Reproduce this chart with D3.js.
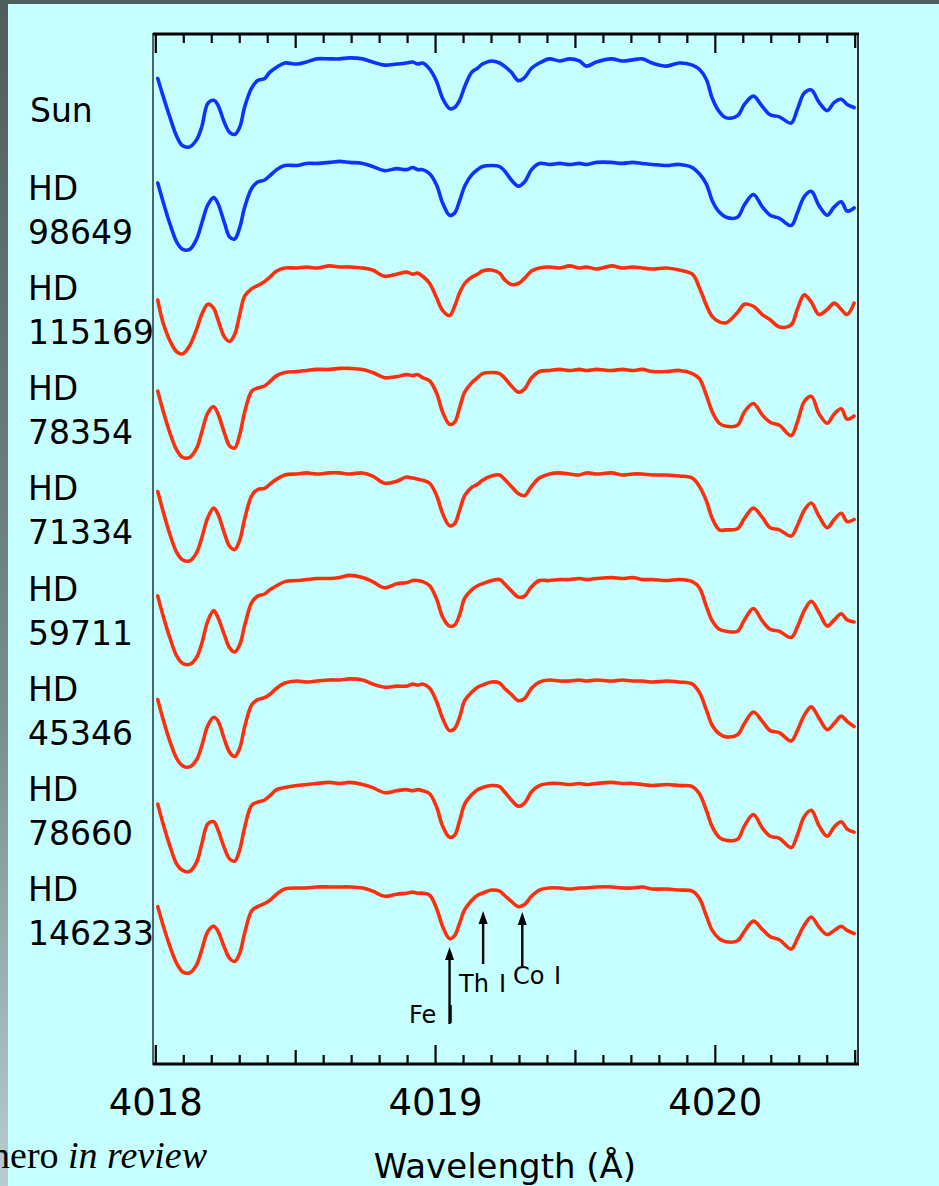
<!DOCTYPE html>
<html>
<head>
<meta charset="utf-8">
<script src="https://cdn.jsdelivr.net/npm/d3@7"></script>
<style>
  html, body { margin: 0; padding: 0; background: #4e5d5d; }
  svg { display: block; }
</style>
</head>
<body>
<script>
// Wavelength grid (Å) shared by all spectra
const wavelengths = [
  4018.007, 4018.025, 4018.050, 4018.075, 4018.096, 4018.121, 4018.146, 4018.164, 4018.186, 4018.207,
  4018.221, 4018.246, 4018.264, 4018.282, 4018.300, 4018.318, 4018.343, 4018.364, 4018.389, 4018.407,
  4018.432, 4018.461, 4018.504, 4018.539, 4018.575, 4018.621, 4018.657, 4018.693, 4018.739, 4018.775,
  4018.818, 4018.861, 4018.896, 4018.918, 4018.936, 4018.954, 4018.979, 4019.004, 4019.025, 4019.050,
  4019.068, 4019.086, 4019.104, 4019.129, 4019.150, 4019.168, 4019.200, 4019.229, 4019.246, 4019.271,
  4019.296, 4019.318, 4019.343, 4019.371, 4019.407, 4019.443, 4019.479, 4019.514, 4019.539, 4019.575,
  4019.629, 4019.668, 4019.704, 4019.739, 4019.775, 4019.825, 4019.871, 4019.918, 4019.943, 4019.968,
  4019.989, 4020.014, 4020.039, 4020.079, 4020.104, 4020.136, 4020.168, 4020.196, 4020.229, 4020.271,
  4020.293, 4020.318, 4020.343, 4020.371, 4020.400, 4020.425, 4020.450, 4020.471, 4020.496
];

// Normalised flux of each star on the grid above
const fluxSun = [
  0.80,0.64,0.43,0.24,0.15,0.14,0.21,0.33,0.56,0.59,
  0.55,0.37,0.28,0.26,0.33,0.53,0.71,0.78,0.80,0.86,
  0.91,0.95,0.94,0.96,0.99,0.99,0.99,1.00,0.99,0.96,
  0.93,0.94,0.95,0.96,0.94,0.95,0.89,0.77,0.61,0.51,
  0.52,0.59,0.72,0.86,0.90,0.94,0.97,0.95,0.92,0.86,
  0.78,0.81,0.90,0.95,0.99,0.97,0.99,0.97,0.92,0.96,
  0.99,0.97,0.98,0.99,0.95,0.92,0.95,0.93,0.89,0.79,
  0.61,0.48,0.42,0.44,0.55,0.63,0.53,0.45,0.43,0.37,
  0.50,0.66,0.69,0.57,0.49,0.57,0.60,0.55,0.52
];
const flux98649 = [
  0.79,0.62,0.40,0.22,0.15,0.15,0.25,0.40,0.58,0.65,
  0.60,0.40,0.27,0.25,0.36,0.56,0.74,0.80,0.82,0.86,
  0.92,0.96,0.96,0.98,0.98,0.99,1.00,0.99,0.98,0.95,
  0.91,0.93,0.92,0.94,0.92,0.92,0.88,0.77,0.60,0.48,
  0.50,0.62,0.76,0.87,0.92,0.95,0.96,0.95,0.91,0.82,
  0.76,0.80,0.92,0.98,0.97,0.98,0.97,0.98,0.97,0.99,
  0.99,0.98,0.99,0.98,0.97,0.96,0.97,0.94,0.88,0.78,
  0.62,0.51,0.46,0.46,0.58,0.68,0.56,0.48,0.45,0.38,
  0.50,0.66,0.71,0.57,0.48,0.56,0.61,0.52,0.55
];
const flux115169 = [
  0.66,0.45,0.27,0.16,0.14,0.22,0.38,0.52,0.62,0.58,
  0.48,0.30,0.26,0.33,0.52,0.70,0.77,0.80,0.84,0.88,
  0.94,0.97,0.97,0.98,0.97,0.99,0.98,0.98,0.97,0.95,
  0.89,0.91,0.93,0.91,0.92,0.89,0.82,0.68,0.56,0.51,
  0.60,0.73,0.82,0.88,0.91,0.94,0.95,0.92,0.86,0.81,
  0.82,0.87,0.94,0.97,0.98,0.97,0.99,0.97,0.98,0.96,
  0.99,0.97,0.98,0.97,0.96,0.97,0.95,0.91,0.78,0.61,
  0.50,0.45,0.44,0.54,0.62,0.60,0.52,0.47,0.40,0.42,
  0.57,0.71,0.64,0.52,0.57,0.63,0.57,0.52,0.63
];
const flux78354 = [
  0.78,0.60,0.38,0.21,0.14,0.14,0.23,0.38,0.57,0.63,
  0.57,0.37,0.25,0.23,0.36,0.58,0.78,0.81,0.83,0.87,
  0.93,0.96,0.97,0.98,0.99,0.99,1.00,1.00,0.99,0.96,
  0.91,0.92,0.94,0.93,0.94,0.91,0.88,0.76,0.58,0.46,
  0.48,0.62,0.77,0.86,0.91,0.95,0.96,0.95,0.91,0.83,
  0.77,0.80,0.91,0.97,0.98,0.99,0.98,0.99,0.98,0.99,
  0.98,0.99,0.98,0.99,0.97,0.97,0.98,0.95,0.90,0.74,
  0.58,0.47,0.44,0.45,0.58,0.66,0.55,0.48,0.45,0.35,
  0.48,0.68,0.73,0.56,0.47,0.56,0.61,0.51,0.54
];
const flux71334 = [
  0.81,0.63,0.40,0.22,0.15,0.14,0.22,0.36,0.56,0.65,
  0.60,0.40,0.28,0.25,0.34,0.55,0.77,0.83,0.84,0.88,
  0.93,0.97,0.98,0.99,0.98,0.99,0.99,0.98,0.99,0.96,
  0.89,0.91,0.95,0.94,0.93,0.92,0.89,0.77,0.60,0.48,
  0.50,0.63,0.77,0.85,0.88,0.92,0.96,0.97,0.93,0.86,
  0.79,0.77,0.86,0.94,0.98,0.99,0.98,0.97,0.99,0.98,
  0.99,0.97,0.98,0.98,0.97,0.97,0.96,0.94,0.86,0.72,
  0.55,0.44,0.44,0.45,0.55,0.65,0.56,0.46,0.44,0.38,
  0.48,0.63,0.70,0.57,0.46,0.54,0.60,0.52,0.54
];
const flux59711 = [
  0.80,0.62,0.40,0.22,0.15,0.14,0.21,0.34,0.56,0.66,
  0.60,0.42,0.30,0.26,0.33,0.52,0.74,0.80,0.82,0.86,
  0.90,0.94,0.95,0.96,0.97,0.97,0.98,1.00,0.98,0.94,
  0.88,0.92,0.93,0.95,0.95,0.94,0.90,0.77,0.60,0.51,
  0.52,0.62,0.78,0.86,0.90,0.92,0.95,0.96,0.92,0.85,
  0.79,0.80,0.89,0.95,0.95,0.96,0.96,0.97,0.96,0.97,
  0.98,0.97,0.98,0.96,0.96,0.95,0.96,0.94,0.88,0.70,
  0.56,0.48,0.46,0.46,0.57,0.68,0.56,0.48,0.46,0.40,
  0.50,0.66,0.75,0.64,0.51,0.57,0.63,0.57,0.55
];
const flux45346 = [
  0.80,0.62,0.40,0.23,0.16,0.15,0.22,0.35,0.55,0.63,
  0.60,0.41,0.29,0.25,0.33,0.54,0.75,0.80,0.82,0.85,
  0.91,0.96,0.98,0.97,0.98,0.99,0.99,1.00,0.99,0.95,
  0.92,0.93,0.93,0.95,0.94,0.95,0.91,0.78,0.62,0.50,
  0.52,0.63,0.79,0.87,0.92,0.94,0.97,0.96,0.91,0.85,
  0.79,0.81,0.91,0.97,0.99,0.98,0.98,0.99,0.98,0.99,
  0.98,0.99,0.98,0.98,0.97,0.98,0.97,0.95,0.87,0.70,
  0.55,0.47,0.44,0.46,0.57,0.68,0.59,0.50,0.48,0.40,
  0.50,0.65,0.73,0.62,0.51,0.57,0.64,0.59,0.54
];
const flux78660 = [
  0.79,0.61,0.39,0.21,0.15,0.14,0.23,0.40,0.60,0.62,
  0.55,0.36,0.26,0.24,0.35,0.57,0.78,0.81,0.83,0.87,
  0.93,0.95,0.97,0.98,0.99,1.00,0.99,1.00,0.98,0.95,
  0.90,0.92,0.93,0.92,0.93,0.92,0.89,0.76,0.58,0.47,
  0.49,0.63,0.79,0.88,0.93,0.95,0.97,0.96,0.91,0.83,
  0.77,0.80,0.91,0.97,0.99,0.99,0.98,0.99,0.98,0.99,
  1.00,0.99,0.99,0.98,0.97,0.98,0.97,0.96,0.89,0.73,
  0.57,0.47,0.44,0.45,0.58,0.69,0.56,0.48,0.46,0.37,
  0.49,0.67,0.73,0.58,0.48,0.57,0.62,0.55,0.52
];
const flux146233 = [
  0.80,0.63,0.42,0.25,0.17,0.16,0.24,0.38,0.56,0.61,
  0.57,0.40,0.30,0.27,0.35,0.55,0.76,0.80,0.83,0.86,
  0.92,0.97,0.98,0.98,0.99,0.99,0.99,0.99,0.98,0.95,
  0.90,0.92,0.93,0.94,0.93,0.93,0.91,0.78,0.61,0.49,
  0.52,0.64,0.77,0.86,0.91,0.93,0.96,0.95,0.91,0.85,
  0.80,0.82,0.90,0.96,0.98,0.98,0.97,0.98,0.98,0.99,
  0.99,0.98,0.98,0.99,0.97,0.97,0.96,0.95,0.88,0.71,
  0.57,0.49,0.46,0.47,0.56,0.66,0.58,0.51,0.48,0.39,
  0.49,0.62,0.70,0.60,0.53,0.57,0.61,0.57,0.54
];

// Star names (two-line labels split at the space) and spectrum groups
const starNames = ["Sun", "HD 98649", "HD 115169", "HD 78354", "HD 71334",
                   "HD 59711", "HD 45346", "HD 78660", "HD 146233"];
const starFluxes = [fluxSun, flux98649, flux115169, flux78354, flux71334,
                    flux59711, flux45346, flux78660, flux146233];
const starGroups = ["ref", "ref", "twin", "twin", "twin", "twin", "twin", "twin", "twin"];

// Identified lines marked under the last spectrum
const lineElements = ["Fe", "Th", "Co"];
const lineWavelengths = [4019.05, 4019.17, 4019.31];

// Axis ticks
const majorTicks = [4018, 4019, 4020];
const tickStep = 0.1;

const W = 939, H = 1186;
const plot = { left: 153, right: 858, top: 33, bottom: 1065 };
const colors = { ref: "#0b34ff", twin: "#ff2e0c" };
const FONT = "'DejaVu Sans', Verdana, sans-serif";

const svg = d3.select("body").append("svg")
  .attr("width", W).attr("height", H);

// slide backdrop: dark top rim, shaded left rim, cyan page
const defs = svg.append("defs");
const grad = defs.append("linearGradient").attr("id", "rim")
  .attr("x1", 0).attr("y1", 0).attr("x2", 0).attr("y2", 1);
grad.append("stop").attr("offset", "0%").attr("stop-color", "#4f5d5d");
grad.append("stop").attr("offset", "60%").attr("stop-color", "#7a8c8c");
grad.append("stop").attr("offset", "100%").attr("stop-color", "#b6cece");
svg.append("rect").attr("width", W).attr("height", H).attr("fill", "#4e5d5d");
svg.append("rect").attr("x", 0).attr("y", 4).attr("width", 8).attr("height", H - 4).attr("fill", "url(#rim)");
svg.append("rect").attr("x", 8).attr("y", 4).attr("width", W - 8).attr("height", H - 4).attr("fill", "#c6ffff");

const x = d3.scaleLinear().domain([4017.99, 4020.51]).range([plot.left, plot.right]);
// each spectrum is shifted down by one flux unit per star
const y = d3.scaleLinear().domain([-8.73, 1.24]).range([plot.bottom, plot.top]);

// frame
svg.append("line").attr("x1", plot.left).attr("x2", plot.left)
  .attr("y1", plot.top).attr("y2", plot.bottom).attr("stroke", "#111").attr("stroke-width", 1.3);
svg.append("line").attr("x1", plot.right).attr("x2", plot.right)
  .attr("y1", plot.top).attr("y2", plot.bottom).attr("stroke", "#333").attr("stroke-width", 2);
svg.append("line").attr("x1", plot.left).attr("x2", plot.right + 1)
  .attr("y1", plot.top + 1).attr("y2", plot.top + 1).attr("stroke", "#000").attr("stroke-width", 3);
svg.append("line").attr("x1", plot.left).attr("x2", plot.right + 1)
  .attr("y1", plot.bottom - 1).attr("y2", plot.bottom - 1).attr("stroke", "#000").attr("stroke-width", 3);

// ticks every 0.1 Å, longer at half and whole Ångströms
const tickVals = d3.range(0, 26).map(k => +(4018 + k * tickStep).toFixed(1));
const tickLen = v => {
  const k = Math.round((v - 4018) * 10);
  return k % 10 === 0 ? 20 : (k % 5 === 0 ? 15 : 10);
};
const ticks = svg.append("g").attr("stroke", "#000").attr("stroke-width", 2.2);
ticks.selectAll(".tt").data(tickVals).join("line")
  .attr("x1", d => x(d)).attr("x2", d => x(d))
  .attr("y1", plot.top).attr("y2", d => plot.top + tickLen(d));
ticks.selectAll(".tb").data(tickVals).join("line")
  .attr("x1", d => x(d)).attr("x2", d => x(d))
  .attr("y1", plot.bottom).attr("y2", d => plot.bottom - tickLen(d));

// tick labels
svg.append("g").selectAll("text").data(majorTicks).join("text")
  .attr("x", d => x(d)).attr("y", 1115)
  .attr("text-anchor", "middle")
  .attr("font-family", FONT).attr("font-size", 37).attr("fill", "#000")
  .text(d3.format("d"));

// axis title
svg.append("text").attr("x", 505).attr("y", 1178).attr("text-anchor", "middle")
  .attr("font-family", FONT).attr("font-size", 34).attr("fill", "#000")
  .text("Wavelength (Å)");

// spectra
const line = d3.line()
  .x(d => x(d[0]))
  .y(d => y(d[1]))
  .curve(d3.curveCatmullRom.alpha(0.5));

starFluxes.forEach((flux, i) => {
  const pts = wavelengths.map((w, j) => [w, flux[j] - i]);
  svg.append("path").datum(pts)
    .attr("d", line)
    .attr("fill", "none")
    .attr("stroke", colors[starGroups[i]])
    .attr("stroke-width", 3.6)
    .attr("stroke-linejoin", "round")
    .attr("stroke-linecap", "round");
});

// star labels
const labelY = d3.scaleLinear().domain([1, 8]).range([200, 901]);
const labels = svg.append("g").attr("font-family", FONT).attr("font-size", 33).attr("fill", "#000");
starNames.forEach((name, i) => {
  if (i === 0) {
    labels.append("text").attr("x", 30).attr("y", 122).text(name);
  } else {
    const [a, b] = name.split(" ");
    const t = labels.append("text").attr("x", 28).attr("y", labelY(i));
    t.append("tspan").attr("x", 28).text(a);
    t.append("tspan").attr("x", 28).attr("dy", 44).text(b);
  }
});

// line identifications with arrows
const arrowTips = [947, 911, 912];
const arrowTails = [1024, 964, 966];
const namePos = [{ x: 409, y: 1023 }, { x: 459, y: 992 }, { x: 513, y: 984 }];
const ionX = [447, 499, 554];
const marks = svg.append("g");
lineWavelengths.forEach((w, i) => {
  const cx = x(w);
  marks.append("line").attr("x1", cx).attr("x2", cx)
    .attr("y1", arrowTails[i]).attr("y2", arrowTips[i] + 8)
    .attr("stroke", "#000").attr("stroke-width", 2.4);
  marks.append("path")
    .attr("d", `M${cx},${arrowTips[i]} L${cx - 4.5},${arrowTips[i] + 13} L${cx + 4.5},${arrowTips[i] + 13} Z`)
    .attr("fill", "#000");
  const t = marks.append("text").attr("y", namePos[i].y)
    .attr("font-family", FONT).attr("font-size", 24).attr("fill", "#000");
  t.append("tspan").attr("x", namePos[i].x).text(lineElements[i]);
  t.append("tspan").attr("x", ionX[i]).text("I");
});

// citation fragment at the lower left
const cite = svg.append("text").attr("x", 207).attr("y", 1168)
  .attr("text-anchor", "end")
  .attr("font-family", "'Liberation Serif', 'Times New Roman', serif")
  .attr("font-size", 38).attr("fill", "#000");
cite.append("tspan").text("nero ");
cite.append("tspan").attr("font-style", "italic").text("in review");
</script>
</body>
</html>
